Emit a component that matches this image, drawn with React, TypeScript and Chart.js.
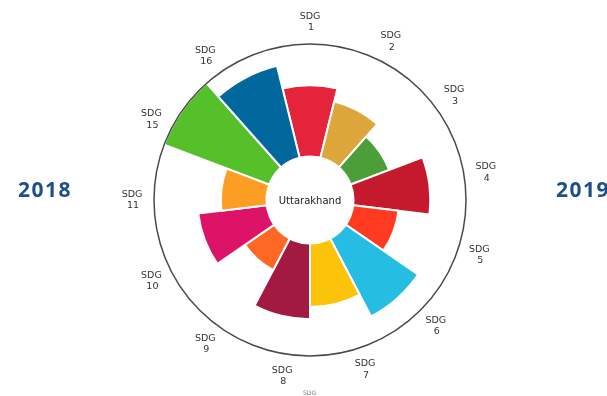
import React, { useEffect, useRef } from "react";
import { Chart, registerables } from "chart.js";

Chart.register(...registerables);

const sdgNumbers: string[] = ["1", "2", "3", "4", "5", "6", "7", "8", "9", "10", "11", "15", "16"];
const scores: number[] = [63, 51, 36, 68, 40, 78, 56, 67, 31, 61, 40, 100, 84];
const sdgColors: string[] = [
  "#E5243B", "#DDA63A", "#4C9F38", "#C5192D", "#FF3A21", "#26BDE2", "#FCC30B",
  "#A21942", "#FD6925", "#DD1367", "#FD9D24", "#56C02B", "#00689D",
];
const centerTitle = "Uttarakhand";
const leftYear = "2018";
const rightYear = "2019";
const scaleMin = -40;
const scaleMax = 100;

const LABEL_ANGLE_STEP = 27; // degrees between label positions
const LABEL_GAP = 22;

const decorPlugin = {
  id: "decor",
  afterDatasetsDraw(chart: any) {
    const scale = chart.scales.r;
    const ctx = chart.ctx as CanvasRenderingContext2D;
    const cx = scale.xCenter;
    const cy = scale.yCenter;
    const R = scale.drawingArea;
    ctx.save();
    // outer ring
    ctx.beginPath();
    ctx.arc(cx, cy, R, 0, Math.PI * 2);
    ctx.strokeStyle = "#4a4a4a";
    ctx.lineWidth = 1.5;
    ctx.stroke();
    // center hole
    const hole = scale.getDistanceFromCenterForValue(0);
    ctx.beginPath();
    ctx.arc(cx, cy, hole, 0, Math.PI * 2);
    ctx.fillStyle = "#ffffff";
    ctx.fill();
    ctx.fillStyle = "#222222";
    ctx.font = "10px 'DejaVu Sans'";
    ctx.textAlign = "center";
    ctx.textBaseline = "middle";
    ctx.fillText(centerTitle, cx, cy + 1);
    // labels
    ctx.fillStyle = "#333333";
    ctx.font = "9.5px 'DejaVu Sans'";
    const d = R + LABEL_GAP;
    sdgNumbers.forEach((n, i) => {
      const a = ((i * LABEL_ANGLE_STEP - 90) * Math.PI) / 180;
      const x = cx + d * Math.cos(a);
      const y = cy + d * Math.sin(a);
      ctx.fillText("SDG", x, y - 5.5);
      ctx.fillText(n, x + 1, y + 6);
    });
    ctx.restore();
  },
};

export default function App() {
  const ref = useRef<HTMLCanvasElement | null>(null);
  useEffect(() => {
    if (!ref.current) return;
    const chart = new Chart(ref.current, {
      type: "polarArea",
      data: {
        labels: sdgNumbers.map((n) => "SDG " + n),
        datasets: [
          {
            data: scores,
            backgroundColor: sdgColors,
            borderColor: "#ffffff",
            borderWidth: 2,
          },
        ],
      },
      options: {
        responsive: false,
        animation: false,
        layout: { padding: { top: 44, bottom: 40, left: 154, right: 141 } },
        plugins: { legend: { display: false }, tooltip: { enabled: false } },
        scales: {
          r: {
            min: scaleMin,
            max: scaleMax,
            startAngle: -180 / sdgNumbers.length,
            ticks: { display: false },
            grid: { display: false },
            angleLines: { display: false },
            pointLabels: { display: false },
          },
        },
      },
      plugins: [decorPlugin],
    });
    return () => chart.destroy();
  }, []);

  const yearStyle: React.CSSProperties = {
    position: "absolute",
    top: 174,
    fontFamily: "'Open Sans', sans-serif",
    fontWeight: 700,
    fontSize: 21,
    letterSpacing: 1.5,
    color: "#1d4f8a",
    lineHeight: "30px",
    whiteSpace: "nowrap",
  };

  return (
    <div
      style={{
        position: "absolute",
        left: 0,
        top: 0,
        width: 607,
        height: 396,
        overflow: "hidden",
        background: "#ffffff",
      }}
    >
      <canvas ref={ref} width={607} height={396} style={{ position: "absolute", left: 0, top: 0 }} />
      <div style={{ ...yearStyle, left: 18 }}>{leftYear}</div>
      <div style={{ ...yearStyle, left: 556 }}>{rightYear}</div>
      <div
        style={{
          position: "absolute",
          left: 303,
          top: 389,
          fontFamily: "'DejaVu Sans', sans-serif",
          fontSize: 6,
          color: "#777",
          lineHeight: "8px",
        }}
      >
        SDG
      </div>
    </div>
  );
}
